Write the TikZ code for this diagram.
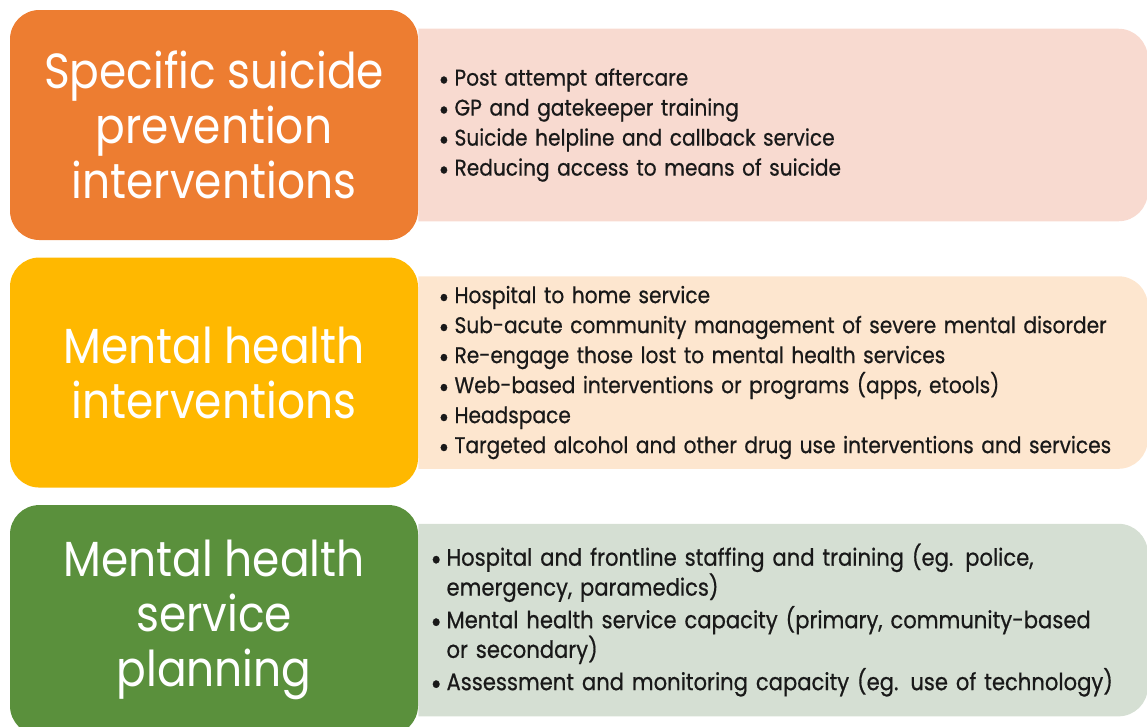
\documentclass[tikz,border=0pt]{standalone}
\usepackage{fontspec}
\setmainfont{Poppins}[FakeStretch=0.89]
\newfontfamily\listfont{Poppins}[FakeStretch=0.89, FakeBold=0.6]
\usetikzlibrary{positioning,backgrounds}

\definecolor{sporange}{HTML}{ED7D31}
\definecolor{mhyellow}{HTML}{FFB800}
\definecolor{mhgreen}{HTML}{5A903C}
\definecolor{sppink}{HTML}{F8DAD0}
\definecolor{mhpeach}{HTML}{FDE6CF}
\definecolor{mhsage}{HTML}{D5DFD3}

\tikzset{
  head/.style={rounded corners=22pt, minimum width=306pt, minimum height=172.5pt, inner sep=0pt,
    align=center, text=white, font=\fontsize{37}{41.25}\selectfont},
  list/.style={minimum height=144pt, inner ysep=0pt, align=left, text=black!90,
    font=\listfont\fontsize{17}{22.5}\selectfont},
}
\newcommand\bul{\makebox[12pt][l]{\smash{\raisebox{-3.2pt}{\scalebox{1.3}{\textbullet}}}}}
\newcommand\hang{\hphantom{\bul}}

\begin{document}
\begin{tikzpicture}[x=0.75pt,y=-0.75pt]
\useasboundingbox (0,0) rectangle (1147,726);
% left headings
\node[head, fill=sporange] (spec) at (214,125) {Specific suicide\\prevention\\interventions};
\node[head, fill=mhyellow, below=12.75pt of spec] (mhi) {Mental health\\interventions};
\node[head, fill=mhgreen, below=12.75pt of mhi] (mhs) {Mental health\\service\\planning};
% right lists
\node[list, right=0pt of spec, inner xsep=15pt, text width=516.75pt] (spec-list)
  {\bul Post attempt aftercare\\
   \bul GP and gatekeeper training\\
   \bul Suicide helpline and callback service\\
   \bul Reducing access to means of suicide};
\node[list, right=0pt of mhi, inner xsep=15pt, text width=516.75pt] (mhi-list)
  {\bul Hospital to home service\\
   \bul Sub-acute community management of severe mental disorder\\
   \bul Re-engage those lost to mental health services\\
   \bul Web-based interventions or programs (apps, etools)\\
   \bul Headspace\\
   \bul Targeted alcohol and other drug use interventions and services};
\node[list, right=0pt of mhs, inner xsep=9pt, text width=528.75pt,
      font=\listfont\fontsize{17.8}{20}\selectfont] (mhs-list)
  {\bul Hospital and frontline staffing and training (eg. police,\\
   \hang emergency, paramedics)\\[2pt]
   \bul Mental health service capacity (primary, community-based\\
   \hang or secondary)\\[2pt]
   \bul Assessment and monitoring capacity (eg. use of technology)};
\begin{scope}[on background layer]
  \foreach \n/\c in {spec-list/sppink, mhi-list/mhpeach, mhs-list/mhsage}
    \fill[\c] (\n.south west) -- (\n.north west) -- ([xshift=-22pt]\n.north east)
      arc[start angle=90, end angle=0, radius=22pt] -- ([yshift=22pt]\n.south east)
      arc[start angle=0, end angle=-90, radius=22pt] -- cycle;
\end{scope}
\end{tikzpicture}
\end{document}
